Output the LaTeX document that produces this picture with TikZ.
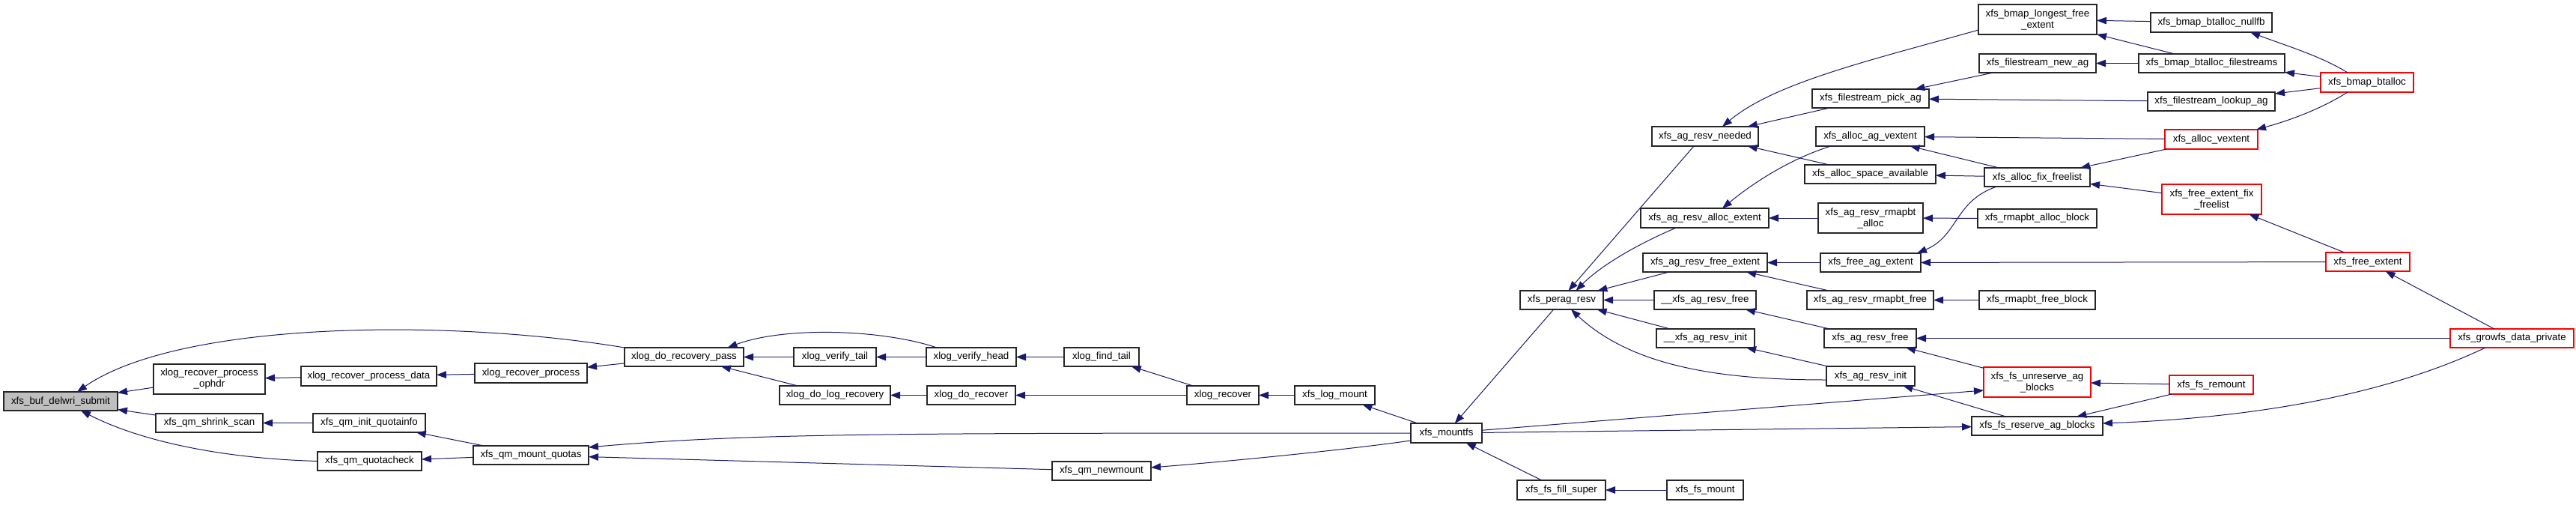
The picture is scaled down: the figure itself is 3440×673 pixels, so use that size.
\documentclass[tikz,border=0pt]{standalone}
\usepackage{fontspec}
\newfontfamily\dfont{Liberation Sans}
\usetikzlibrary{arrows.meta}
\definecolor{edgeblue}{RGB}{25,25,112}
\definecolor{rootgray}{RGB}{191,191,191}
\definecolor{nodered}{RGB}{255,0,0}
\newcommand{\dgfont}{\dfont\fontsize{13.33pt}{15pt}\selectfont}
\newcommand{\nd}[7][]{\node[box,#1,minimum width={(#5)-(#3)},minimum height={(#6)-(#4)}] (#2) at ({((#3)+(#5))/2},{((#4)+(#6))/2}) {#7};}
\tikzset{
  box/.style={draw=black!85, line width=1.2pt, fill=white, inner sep=0pt, outer sep=0pt, align=center, font=\dgfont},
  redbox/.style={draw=nodered},
  rootbox/.style={fill=rootgray},
  conn/.style={draw=edgeblue, line width=1pt, -{Triangle[length=13pt,width=9.5pt,fill=edgeblue]}},
}
\begin{document}
\begin{tikzpicture}[x=1pt,y=-1pt]
\fill[white] (0,0) rectangle (3440,673);
\useasboundingbox (0,0) rectangle (3440,673);
% nodes
\nd[rootbox]{buf}{5}{523}{157}{548}{xfs\_buf\_delwri\_submit}
\nd{ophdr}{205}{486}{354}{526}{xlog\_recover\_process\\\_ophdr}
\nd{pdata}{402}{489}{583}{515}{xlog\_recover\_process\_data}
\nd{shrink}{208}{552}{351}{577}{xfs\_qm\_shrink\_scan}
\nd{qinit}{418}{552}{568}{577}{xfs\_qm\_init\_quotainfo}
\nd{qcheck}{424}{603}{563}{628}{xfs\_qm\_quotacheck}
\nd{rproc}{634}{485}{784}{511}{xlog\_recover\_process}
\nd{mq}{632}{595}{786}{620}{xfs\_qm\_mount\_quotas}
\nd{pass}{834}{464}{993}{489}{xlog\_do\_recovery\_pass}
\nd{vtail}{1060}{464}{1170}{489}{xlog\_verify\_tail}
\nd{vhead}{1237}{464}{1357}{489}{xlog\_verify\_head}
\nd{dlr}{1041}{515}{1189}{540}{xlog\_do\_log\_recovery}
\nd{drec}{1238}{515}{1356}{540}{xlog\_do\_recover}
\nd{ftail}{1421}{464}{1521}{489}{xlog\_find\_tail}
\nd{xrec}{1585}{515}{1681}{540}{xlog\_recover}
\nd{nm}{1405}{616}{1537}{641}{xfs\_qm\_newmount}
\nd{lm}{1729}{515}{1836}{540}{xfs\_log\_mount}
\nd{mf}{1884}{565}{1979}{591}{xfs\_mountfs}
\nd{perag}{2030}{388}{2141}{413}{xfs\_perag\_resv}
\nd{fill}{2026}{641}{2144}{667}{xfs\_fs\_fill\_super}
\nd{fsm}{2226}{641}{2328}{667}{xfs\_fs\_mount}
\nd{arfe}{2194}{338}{2360}{363}{xfs\_ag\_resv\_free\_extent}
\nd{uarf}{2209}{388}{2345}{413}{\_\_xfs\_ag\_resv\_free}
\nd{uari}{2212}{439}{2343}{464}{\_\_xfs\_ag\_resv\_init}
\nd{fae}{2431}{338}{2565}{363}{xfs\_free\_ag\_extent}
\nd{arrf}{2413}{388}{2582}{413}{xfs\_ag\_resv\_rmapbt\_free}
\nd{rfb}{2643}{388}{2798}{413}{xfs\_rmapbt\_free\_block}
\nd{arfree}{2436}{439}{2559}{464}{xfs\_ag\_resv\_free}
\nd{ari}{2439}{489}{2557}{515}{xfs\_ag\_resv\_init}
\nd[redbox]{unres}{2649}{490}{2792}{530}{xfs\_fs\_unreserve\_ag\\\_blocks}
\nd{res}{2633}{556}{2808}{581}{xfs\_fs\_reserve\_ag\_blocks}
\nd[redbox]{remount}{2897}{501}{3009}{526}{xfs\_fs\_remount}
\nd{afx}{2650}{224}{2791}{249}{xfs\_alloc\_fix\_freelist}
\nd[redbox]{fefx}{2887}{246}{3020}{286}{xfs\_free\_extent\_fix\\\_freelist}
\nd{rab}{2641}{279}{2800}{304}{xfs\_rmapbt\_alloc\_block}
\nd[redbox]{fe}{3106}{337}{3218}{362}{xfs\_free\_extent}
\nd[redbox]{gf}{3272}{439}{3437}{464}{xfs\_growfs\_data\_private}
\nd{nd}{2206}{169}{2348}{195}{xfs\_ag\_resv\_needed}
\nd{pick}{2420}{119}{2576}{144}{xfs\_filestream\_pick\_ag}
\nd{aav}{2425}{169}{2570}{195}{xfs\_alloc\_ag\_vextent}
\nd{asa}{2410}{220}{2585}{245}{xfs\_alloc\_space\_available}
\nd{ae}{2191}{278}{2362}{304}{xfs\_ag\_resv\_alloc\_extent}
\nd{arra}{2428}{271}{2568}{311}{xfs\_ag\_resv\_rmapbt\\\_alloc}
\nd{lg}{2642}{6}{2800}{46}{xfs\_bmap\_longest\_free\\\_extent}
\nd{nf}{2872}{17}{3034}{43}{xfs\_bmap\_btalloc\_nullfb}
\nd{nag}{2643}{72}{2799}{97}{xfs\_filestream\_new\_ag}
\nd{bfs}{2856}{72}{3051}{97}{xfs\_bmap\_btalloc\_filestreams}
\nd[redbox]{bt}{3099}{97}{3223}{123}{xfs\_bmap\_btalloc}
\nd{lag}{2868}{123}{3038}{148}{xfs\_filestream\_lookup\_ag}
\nd[redbox]{av}{2891}{173}{3015}{199}{xfs\_alloc\_vextent}
% edges (left part)
\draw[conn] (ophdr) -- (buf);
\draw[conn] (shrink) -- (buf);
\draw[conn] (pass.north west) .. controls (600,425) and (240,428) .. ([xshift=22pt]buf.north);
\draw[conn] (qcheck.west) .. controls (300,612) and (190,590) .. ([xshift=27pt]buf.south);
\draw[conn] (pdata) -- (ophdr);
\draw[conn] (rproc) -- (pdata);
\draw[conn] (pass) -- (rproc);
\draw[conn] (vtail) -- (pass);
\draw[conn] ([xshift=-46pt]vhead.north) .. controls (1180,440) and (1050,435) .. ([xshift=58pt]pass.north);
\draw[conn] (dlr) -- (pass);
\draw[conn] (vhead) -- (vtail);
\draw[conn] (ftail) -- (vhead);
\draw[conn] (drec) -- (dlr);
\draw[conn] (xrec) -- (ftail);
\draw[conn] (xrec) -- (drec);
\draw[conn] (lm) -- (xrec);
\draw[conn] (mf) -- (lm);
\draw[conn] (qinit) -- (shrink);
\draw[conn] (mq) -- (qinit);
\draw[conn] (mq) -- (qcheck);
\draw[conn] (mf.west) .. controls (1200,578) and (1000,578) .. ([yshift=10.5pt]mq.east);
\draw[conn] (nm) -- (mq);
\draw[conn] ([yshift=-10pt]mf.west) .. controls (1800,600) and (1650,615) .. ([yshift=4.5pt]nm.east);
% edges (right part)
\draw[conn] (perag) -- (mf);
\draw[conn] (fill) -- (mf);
\draw[conn] (fsm) -- (fill);
\draw[conn] (mf) -- ([yshift=-11pt]unres.west);
\draw[conn] (mf) -- (res);
\draw[conn] ([xshift=-15pt]nd.south) -- ([xshift=9pt]perag.north);
\draw[conn] ([xshift=-38pt]ae.south) .. controls (2195,322) and (2140,352) .. ([xshift=19pt]perag.north);
\draw[conn] (arfe) -- (perag);
\draw[conn] (uarf) -- (perag);
\draw[conn] (uari) -- (perag);
\draw[conn] ([yshift=-5pt]ari.west) .. controls (2300,507) and (2180,490) .. ([xshift=12.5pt]perag.south);
\draw[conn] (fae) -- (arfe);
\draw[conn] (arrf) -- (arfe);
\draw[conn] (rfb) -- (arrf);
\draw[conn] (arfree) -- (uarf);
\draw[conn] (ari) -- (uari);
\draw[conn] (unres) -- (arfree);
\draw[conn] (res) -- (ari);
\draw[conn] (gf) -- (arfree);
\draw[conn] (gf) -- (fe);
\draw[conn] ([xshift=-35.5pt]gf.south) .. controls (3180,530) and (3000,558) .. ([yshift=3.5pt]res.east);
\draw[conn] (remount) -- (unres);
\draw[conn] (remount) -- (res);
\draw[conn] (fe) -- (fae);
\draw[conn] (fe) -- (fefx);
\draw[conn] (fefx) -- (afx);
\draw[conn] (av) -- (afx);
\draw[conn] (afx) -- (aav);
\draw[conn] (afx) -- (asa);
\draw[conn] ([xshift=-54pt]afx.south) .. controls (2610,268) and (2615,315) .. ([xshift=62pt]fae.north);
\draw[conn] (rab) -- (arra);
\draw[conn] (arra) -- (ae);
\draw[conn] ([xshift=-52.5pt]aav.south) .. controls (2390,212) and (2340,245) .. ([xshift=23.5pt]ae.north);
\draw[conn] (asa) -- (nd);
\draw[conn] (pick) -- (nd);
\draw[conn] ([yshift=-14pt]lg.west) .. controls (2500,80) and (2370,110) .. ([xshift=23pt]nd.north);
\draw[conn] (nag) -- (pick);
\draw[conn] (lag) -- (pick);
\draw[conn] (av) -- (aav);
\draw[conn] (nf) -- (lg);
\draw[conn] (bfs) -- (lg);
\draw[conn] (bfs) -- (nag);
\draw[conn] ([xshift=-26pt]bt.north) .. controls (3100,75) and (3050,60) .. ([xshift=52pt]nf.south);
\draw[conn] (bt) -- (bfs);
\draw[conn] (bt) -- (lag);
\draw[conn] ([xshift=-26pt]bt.south) .. controls (3100,145) and (3060,160) .. ([xshift=-2pt]av.north east);
\end{tikzpicture}
\end{document}
